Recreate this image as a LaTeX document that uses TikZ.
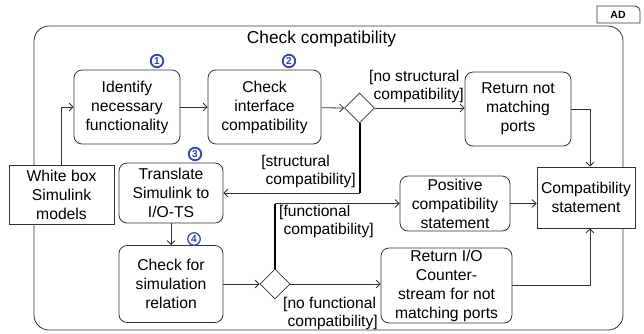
\documentclass[tikz,border=0pt]{standalone}
\usepackage{fontspec}
\setmainfont{Liberation Sans}
\usetikzlibrary{shapes.geometric,arrows.meta}
\definecolor{numblue}{HTML}{3344AA}
\definecolor{lineg}{HTML}{333333}
\begin{document}
\begin{tikzpicture}[x=1pt,y=-1pt,
  every node/.style={font=\fontsize{15.7}{19}\selectfont},
  act/.style={draw=lineg, fill=white, rounded corners=8, align=center, inner sep=0pt, line width=0.8pt},
  obj/.style={draw=lineg, fill=white, align=center, inner sep=0pt, line width=0.8pt},
  dec/.style={draw=lineg, fill=white, diamond, aspect=1, inner sep=0pt, minimum width=30, minimum height=30, line width=0.8pt},
  guard/.style={font=\fontsize{15.6}{18}\selectfont, align=left, inner sep=0pt},
  num/.style={circle, draw=numblue, text=numblue, line width=1.8pt, inner sep=0pt, minimum size=12.5, font=\bfseries\fontsize{10}{10}\selectfont},
  flow/.style={draw=lineg, line width=0.8pt, -{Straight Barb[length=4pt,width=8pt]}},
  thickl/.style={draw=black, line width=2pt}]
\useasboundingbox (0,0) rectangle (644,333);
% frame
\draw[lineg, line width=0.8pt, rounded corners=15] (34,26) rectangle (623,330);
\node (title) at (321.5,39) {\fontsize{17.3}{20}\selectfont Check compatibility};
% AD tag
\node[font=\bfseries\fontsize{10.5}{12}\selectfont, inner sep=0pt] (ad) at (618,15) {AD};
\draw[lineg, line width=0.8pt] (597,6) -- (635,6) to[out=0,in=90] (640,11) -- (640,23) -- (597,23) -- cycle;
% nodes
\node[act, minimum width=106, minimum height=74] (identify) at (127,107) {Identify\\necessary\\functionality};
\node[act, minimum width=113, minimum height=74] (checkif) at (264.5,107) {Check\\interface\\compatibility};
\node[dec] (d1) at (359.5,108) {};
\node[act, minimum width=106, minimum height=74] (retnot) at (518,109) {Return not\\matching\\ports};
\node[obj, minimum width=105, minimum height=59] (white) at (61.5,194.5) {White box\\Simulink\\models};
\node[act, minimum width=104, minimum height=60] (translate) at (171,193) {Translate\\Simulink to\\I/O-TS};
\node[act, minimum width=104, minimum height=77] (checksim) at (171,284) {Check for\\simulation\\relation};
\node[dec] (d2) at (275,284) {};
\node[act, minimum width=131, minimum height=75] (retio) at (446.5,285.5) {Return I/O\\Counter-\\stream for not\\matching ports};
\node[act, minimum width=110, minimum height=55] (positive) at (455,203.5) {Positive\\compatibility\\statement};
\node[obj, minimum width=98, minimum height=61] (compat) at (586,197.5) {Compatibility\\statement};
% numbers
\node[num] (n1) at (157,61) {1};
\node[num] (n2) at (289,61) {2};
\node[num] (n3) at (195,154) {3};
\node[num, line width=1.2pt] (n4) at (194,239) {4};
% connectors
\draw[flow] (white.north) |- (identify.west);
\draw[flow] (identify) -- (checkif);
\draw[flow] (checkif) -- (d1.west);
\draw[flow] (d1.east) -- (d1.east -| retnot.west);
\coordinate (c1) at (d1.south |- translate.east);
\draw[thickl] (d1.south) -- (c1);
\draw[flow] (c1) -- (translate.east);
\draw[flow] (retnot.east) -| ([xshift=4pt]compat.north);
\draw[flow] (translate.south) -- (checksim.north);
\draw[flow] (checksim.east) -- (d2.west);
\draw[flow] (d2.east) -- (d2.east -| retio.west);
\coordinate (c2) at (d2.north |- positive.west);
\draw[thickl] (d2.north) -- (c2);
\draw[flow] (c2) -- (positive.west);
\draw[flow] (positive.east) -- (positive.east -| compat.west);
\draw[flow] (retio.east) -| ([xshift=4pt]compat.south);
% guards
\node[guard, anchor=west] (g1) at (369,86) {[no structural\\\hphantom{[}compatibility]};
\node[guard, anchor=east] (g2) at (356,171) {[structural\\\hphantom{[}compatibility]};
\node[guard, anchor=west] (g3) at (279,221) {[functional\\\hphantom{[}compatibility]};
\node[guard, anchor=west] (g4) at (283,313.5) {[no functional\\\hphantom{[}compatibility]};
\end{tikzpicture}
\end{document}
